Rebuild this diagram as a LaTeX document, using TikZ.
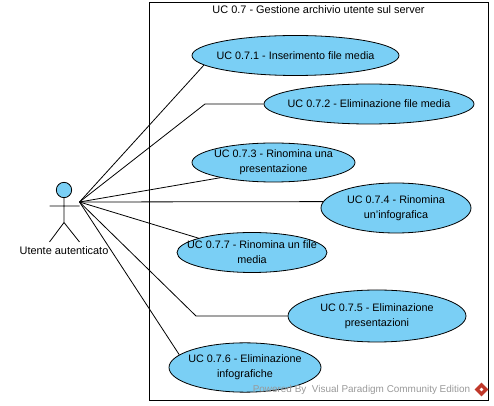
\documentclass[tikz,border=0pt]{standalone}
\usepackage{fontspec}
\setmainfont{Liberation Sans}
\usepackage{xcolor}
\usetikzlibrary{shapes.geometric}
\definecolor{ucblue}{HTML}{7ACFF5}
\definecolor{vpred}{HTML}{C0392B}
\tikzset{
  usecase/.style={draw, ellipse, fill=ucblue, inner sep=0pt},
  uctext/.style={align=center, font=\fontsize{8.1}{11.3}\selectfont},
  assoc/.style={draw, line width=0.6pt},
}
\begin{document}
\begin{tikzpicture}[x=0.75pt, y=-0.75pt, line width=0.6pt]
\useasboundingbox (0,0) rectangle (494,406);
\draw (149,2) rectangle (488.5,400.5);
\node [font=\fontsize{8.2}{10}\selectfont] (title) at (318.5,10) {UC 0.7 - Gestione archivio utente sul server};

\node [usecase, minimum width=155.25pt, minimum height=30pt, label={[uctext]center:UC 0.7.1 - Inserimento file media}] (uc71) at (295.5,55.5) {};
\node [usecase, minimum width=157.5pt, minimum height=30pt, label={[uctext]center:UC 0.7.2 - Eliminazione file media}] (uc72) at (369,104) {};
\node [usecase, minimum width=122.25pt, minimum height=29.25pt, label={[uctext]center:UC 0.7.3 - Rinomina una\\presentazione}] (uc73) at (273.5,162.5) {};
\node [usecase, minimum width=112.5pt, minimum height=37.5pt, label={[uctext]center:UC 0.7.4 - Rinomina\\un'infografica}] (uc74) at (396,208) {};
\node [usecase, minimum width=112.5pt, minimum height=30pt, label={[uctext]center:UC 0.7.7 - Rinomina un file\\media}] (uc77) at (252,252.5) {};
\node [usecase, minimum width=133.5pt, minimum height=39pt, label={[uctext]center:UC 0.7.5 - Eliminazione\\presentazioni}] (uc75) at (377,316) {};
\node [usecase, minimum width=114pt, minimum height=37pt, label={[uctext]center:UC 0.7.6 - Eliminazione\\infografiche}] (uc76) at (245,367.5) {};

\node [draw, circle, fill=ucblue, minimum size=11.5pt, inner sep=0pt] (head) at (64,190) {};
\coordinate (hip) at (64,222.5);
\coordinate (armL) at (49.5,206);
\coordinate (armR) at (79.5,206);
\coordinate (footL) at (49.5,242);
\coordinate (footR) at (79.5,242);
\draw (head.south) -- (hip) (armL) -- (armR) (footL) -- (hip) -- (footR);
\node [font=\fontsize{8.2}{10}\selectfont] (actor) at (64,250.5) {Utente autenticato};

\coordinate (hand) at (79.5,202);
\coordinate (bend2) at (205,104);
\coordinate (bend5) at (196,316);
\draw [assoc] (hand) -- (uc71.186);
\draw [assoc] (hand) -- (bend2) -- (uc72.west);
\draw [assoc] (hand) -- (uc73.196);
\draw [assoc] (hand) -- (uc74.175.3);
\draw [assoc] (hand) -- (uc77.165.7);
\draw [assoc] (hand) -- (bend5) -- (uc75.west);
\draw [assoc] (hand) -- (uc76.169.4);

\node [text=gray!80!white, font=\fontsize{7.45}{10}\selectfont, anchor=east] (vp) at (475,389.5) {Powered By\ \ Visual Paradigm Community Edition};
\node [diamond, fill=vpred, minimum size=10.5pt, inner sep=0pt] (logo) at (481.5,389.5) {};
\node [diamond, fill=white, minimum size=3pt, inner sep=0pt] (logoin) at (481.5,389.5) {};
\end{tikzpicture}
\end{document}
